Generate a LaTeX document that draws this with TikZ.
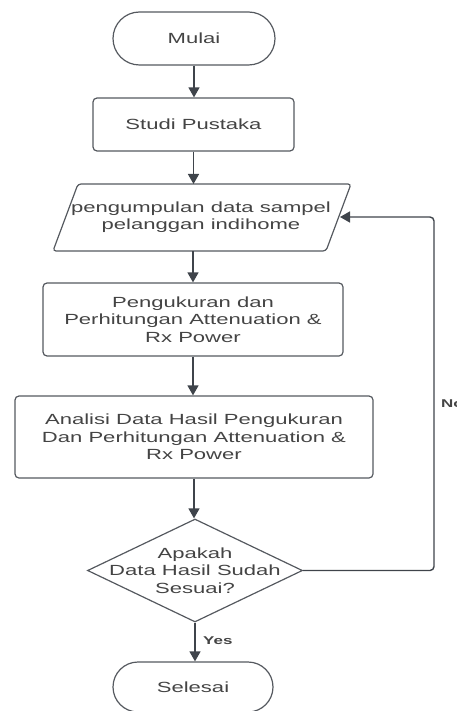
\documentclass[tikz,border=0pt]{standalone}
\usepackage{fontspec}
\setmainfont[FakeStretch=1.5]{Liberation Sans}
\usetikzlibrary{shapes.misc,shapes.geometric,arrows.meta}
\definecolor{ln}{HTML}{55595F}
\definecolor{ar}{HTML}{3F444B}
\definecolor{tx}{HTML}{444444}
\begin{document}
\begin{tikzpicture}[x=1pt,y=-1pt,
  txt/.style={text=tx, font=\fontsize{14.7}{17.6}\selectfont, align=center, inner sep=0pt},
  box/.style={txt, draw=ln, line width=1.2pt, rounded corners=4pt},
  term/.style={txt, draw=ln, line width=1.2pt, shape=rounded rectangle},
  flow/.style={draw=ar, line width=1.4pt, -{Triangle[length=10pt,width=11pt]}},
  lbl/.style={text=tx, font=\fontsize{11.3}{13}\selectfont\bfseries, inner sep=0pt, anchor=west}
]
\useasboundingbox (0,0) rectangle (456,711);

\node[term, minimum width=162pt, minimum height=53pt] (start) at (194,38.5) {Mulai};
\node[box, minimum width=201pt, minimum height=53pt] (studi) at (193.5,124.5) {Studi Pustaka};

\draw[draw=ln, line width=1.2pt, rounded corners=3pt] (78,184) -- (351,184) -- (326,251) -- (53,251) -- cycle;
\node[txt] (data) at (201,217) {pengumpulan data sampel\\pelanggan indihome};
\coordinate (dtop) at (193.5,184);
\coordinate (dbot) at (193,251);
\coordinate (dright) at (340,217);
\coordinate (loop) at (434,217);

\node[box, minimum width=300pt, minimum height=73pt] (ukur) at (193,319.5) {Pengukuran dan\\Perhitungan Attenuation \&\\Rx Power};
\node[box, minimum width=358pt, minimum height=82pt] (anal) at (194,437) {Analisi Data Hasil Pengukuran\\Dan Perhitungan Attenuation \&\\Rx Power};

\node[draw=ln, line width=1.2pt, shape=diamond, minimum width=215pt, minimum height=103pt, inner sep=0pt] (dec) at (195,570.5) {};
\node[txt] (dectxt) at (195,570.5) {Apakah\\Data Hasil Sudah\\Sesuai?};

\node[term, minimum width=160pt, minimum height=50pt] (end) at (193,687) {Selesai};

\draw[flow] (start.south) -- (start.south |- studi.north);
\draw[flow] (studi.south) -- (dtop);
\draw[flow] (dbot) -- (dbot |- ukur.north);
\draw[flow] (ukur.south) -- (ukur.south |- anal.north);
\draw[flow] (anal.south) -- (anal.south |- dec.north);
\draw[flow] (dec.south) -- (dec.south |- end.north);
\draw[flow, rounded corners=4pt] (dec.east) -| (loop) -- (dright);

\node[lbl] (yes) at (203,641) {Yes};
\node[lbl] (no) at (441,404) {No};
\end{tikzpicture}
\end{document}
